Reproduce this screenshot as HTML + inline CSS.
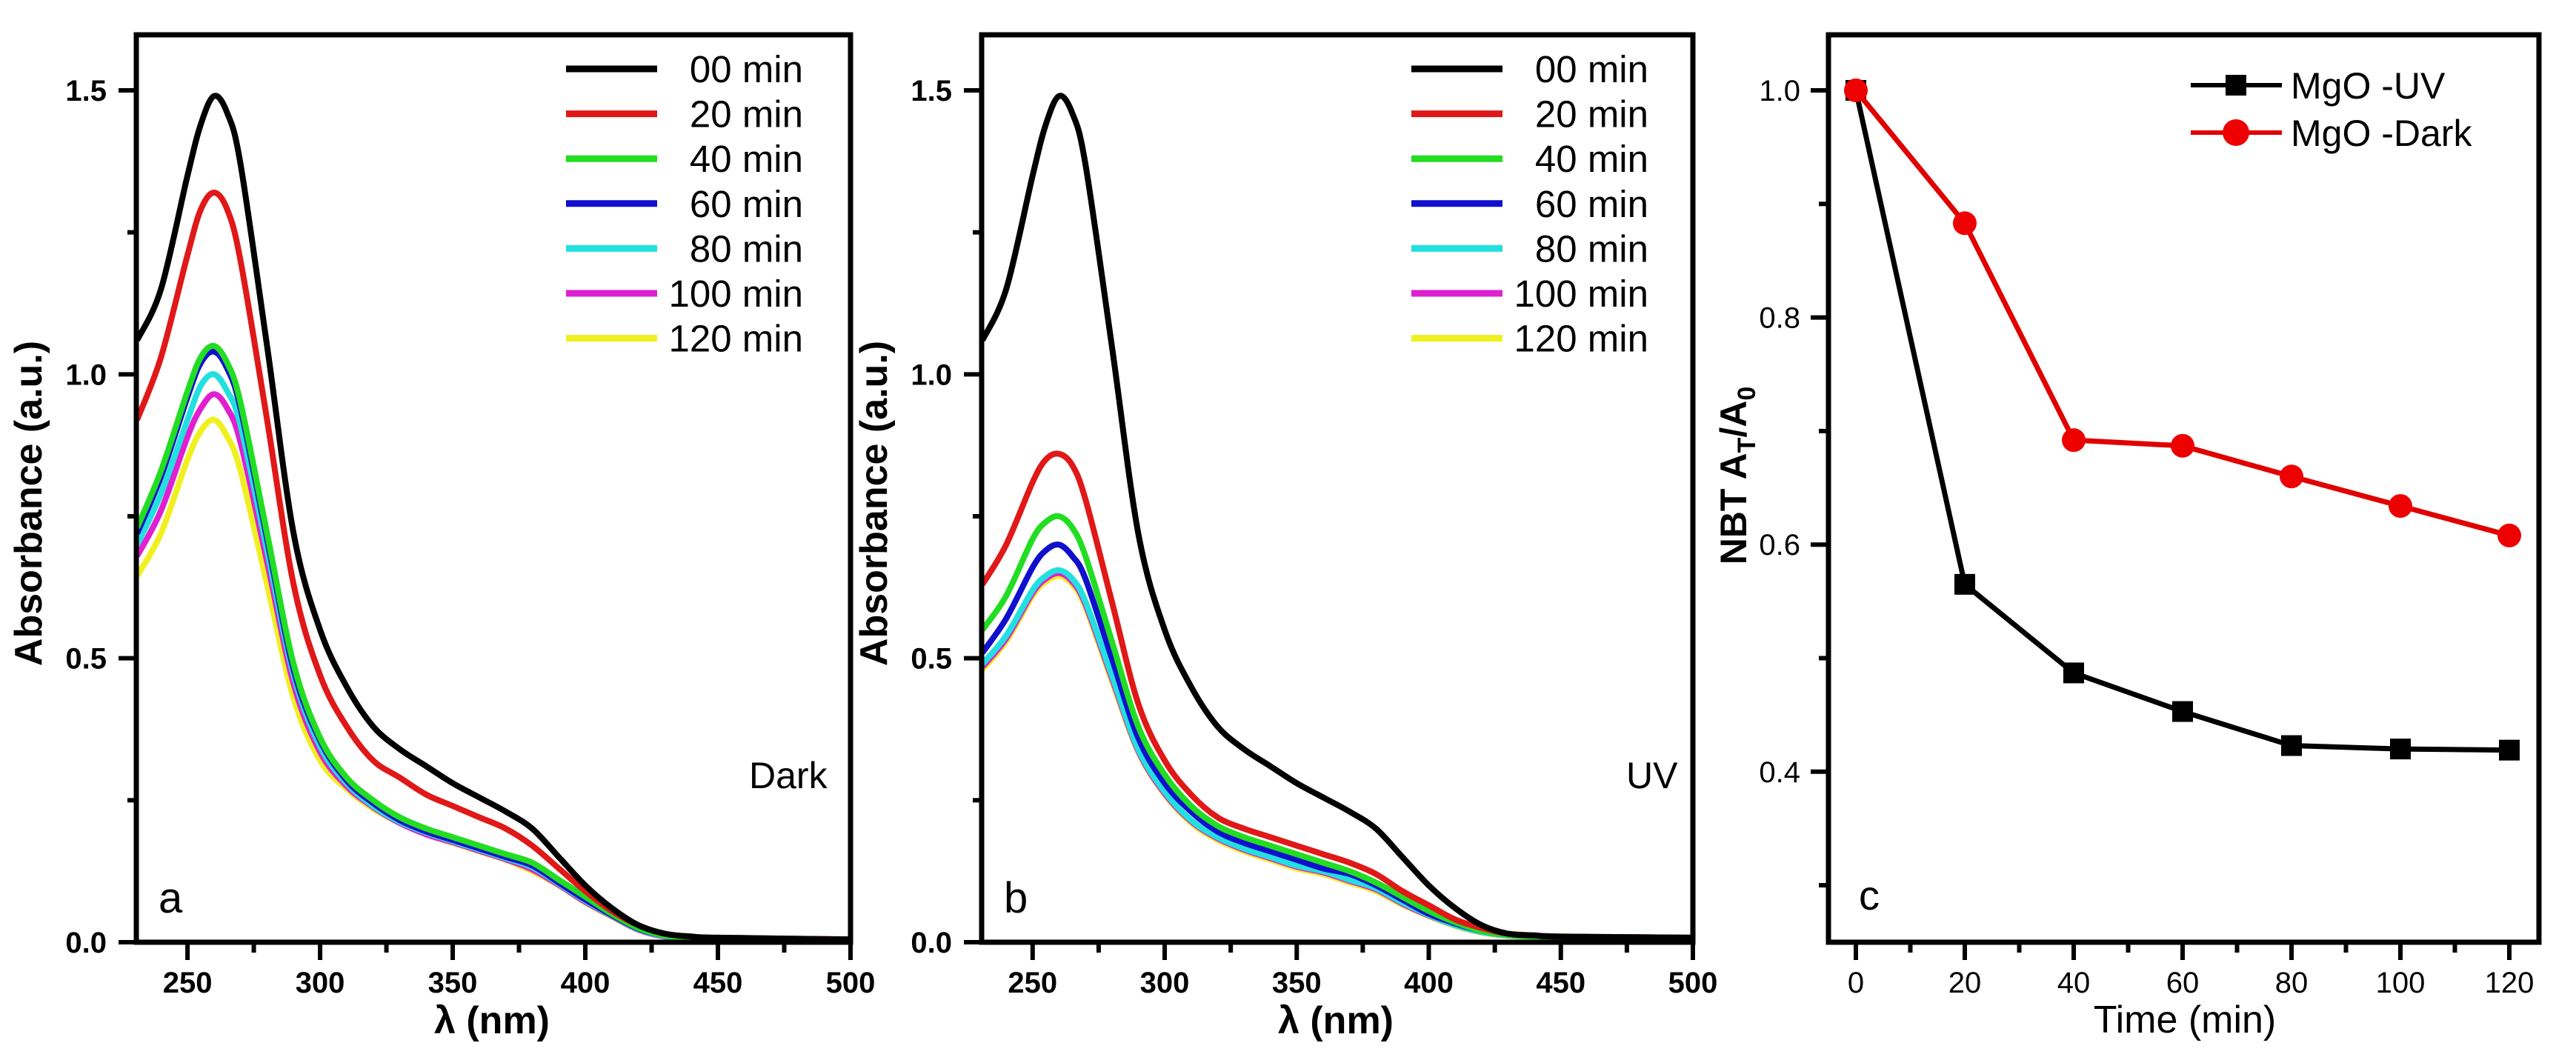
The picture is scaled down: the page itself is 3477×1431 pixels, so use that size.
<!DOCTYPE html>
<html><head><meta charset="utf-8"><style>
html,body{margin:0;padding:0;background:#fff;}
svg{display:block;font-family:"Liberation Sans",Arial,sans-serif;}
</style></head><body>
<svg id="fig" width="3477" height="1431" viewBox="0 0 3477 1431"></svg>
<script>
const wavelengths=[231,240,250,255,260,265,270,280,290,300,310,320,330,340,350,360,370,380,390,400,410,420,430,440,450,500];
const seriesLabels=["00 min","20 min","40 min","60 min","80 min","100 min","120 min"];
const seriesColors=["#000000","#e01818","#22dd22","#1010cc","#22e0e0","#e020d0","#f0f020"];
const darkBlack=[1.06,1.15,1.35,1.44,1.49,1.46,1.37,1.05,0.72,0.55,0.45,0.38,0.34,0.31,0.28,0.255,0.23,0.20,0.15,0.10,0.06,0.03,0.015,0.01,0.008,0.005];
const darkRed=[0.92,1.03,1.21,1.29,1.32,1.29,1.20,0.92,0.63,0.47,0.38,0.32,0.29,0.26,0.24,0.22,0.20,0.17,0.13,0.09,0.055,0.03,0.015,0.01,0.008,0.005];
const darkGreen=[0.73,0.83,0.97,1.03,1.05,1.02,0.95,0.72,0.49,0.36,0.29,0.25,0.22,0.20,0.185,0.17,0.155,0.14,0.11,0.08,0.05,0.025,0.012,0.008,0.006,0.004];
const darkBlue=[0.72,0.82,0.96,1.02,1.04,1.01,0.94,0.71,0.48,0.355,0.285,0.245,0.215,0.195,0.18,0.165,0.15,0.135,0.105,0.075,0.048,0.024,0.012,0.008,0.006,0.004];
const darkCyan=[0.70,0.79,0.92,0.98,1.00,0.97,0.91,0.69,0.47,0.345,0.28,0.24,0.212,0.193,0.178,0.163,0.148,0.132,0.103,0.073,0.047,0.023,0.011,0.008,0.006,0.004];
const darkMagenta=[0.68,0.76,0.89,0.94,0.965,0.94,0.88,0.67,0.455,0.335,0.275,0.238,0.21,0.19,0.176,0.161,0.146,0.128,0.101,0.071,0.046,0.022,0.01,0.007,0.005,0.003];
const darkYellow=[0.645,0.72,0.85,0.90,0.92,0.89,0.83,0.63,0.43,0.32,0.27,0.235,0.21,0.19,0.175,0.16,0.145,0.125,0.10,0.07,0.045,0.022,0.01,0.007,0.005,0.003];
const uvBlack=[1.06,1.15,1.35,1.44,1.49,1.46,1.37,1.05,0.72,0.55,0.45,0.38,0.34,0.31,0.28,0.255,0.23,0.20,0.15,0.10,0.06,0.03,0.015,0.012,0.01,0.008];
const uvRed=[0.63,0.70,0.81,0.85,0.86,0.84,0.78,0.60,0.42,0.32,0.26,0.22,0.20,0.185,0.17,0.155,0.14,0.12,0.09,0.065,0.04,0.025,0.015,0.012,0.01,0.008];
const uvGreen=[0.55,0.61,0.71,0.74,0.75,0.73,0.68,0.53,0.38,0.295,0.24,0.205,0.185,0.17,0.155,0.14,0.125,0.105,0.08,0.055,0.035,0.02,0.013,0.01,0.009,0.007];
const uvBlue=[0.51,0.57,0.66,0.69,0.70,0.68,0.64,0.50,0.36,0.28,0.23,0.195,0.175,0.16,0.145,0.13,0.12,0.10,0.075,0.05,0.033,0.02,0.013,0.01,0.009,0.007];
const uvCyan=[0.49,0.54,0.62,0.645,0.655,0.64,0.60,0.47,0.34,0.265,0.215,0.185,0.165,0.15,0.135,0.125,0.11,0.095,0.07,0.048,0.03,0.018,0.012,0.01,0.009,0.007];
const uvMagenta=[0.485,0.535,0.615,0.64,0.65,0.635,0.595,0.465,0.337,0.262,0.213,0.183,0.163,0.148,0.133,0.123,0.108,0.093,0.068,0.047,0.03,0.018,0.012,0.01,0.009,0.007];
const uvYellow=[0.48,0.53,0.61,0.635,0.645,0.63,0.59,0.46,0.335,0.26,0.21,0.18,0.16,0.145,0.13,0.12,0.105,0.09,0.066,0.046,0.029,0.017,0.011,0.009,0.008,0.006];
const absTicks=[0,0.5,1.0,1.5];
const absTickLabels=["0.0","0.5","1.0","1.5"];
const lamTicks=[250,300,350,400,450,500];
const timePoints=[0,20,40,60,80,100,120];
const uvRatio=[1.0,0.565,0.487,0.453,0.423,0.420,0.419];
const darkRatio=[1.0,0.883,0.692,0.687,0.660,0.634,0.608];
const ratioTicks=[0.4,0.6,0.8,1.0];
const ratioTickLabels=["0.4","0.6","0.8","1.0"];
const timeTicks=[0,20,40,60,80,100,120];

const NS="http://www.w3.org/2000/svg";
const svg=document.getElementById('fig');
function mk(tag,attrs,parent){const e=document.createElementNS(NS,tag);for(const k in attrs)e.setAttribute(k,attrs[k]);(parent||svg).appendChild(e);return e;}
function txt(s,attrs,parent){const e=mk('text',attrs,parent);e.textContent=s;return e;}
function smooth(pts){let d=`M${pts[0][0]},${pts[0][1]}`;for(let i=0;i<pts.length-1;i++){const p0=pts[Math.max(i-1,0)],p1=pts[i],p2=pts[i+1],p3=pts[Math.min(i+2,pts.length-1)];const c1=[p1[0]+(p2[0]-p0[0])/6,p1[1]+(p2[1]-p0[1])/6],c2=[p2[0]-(p3[0]-p1[0])/6,p2[1]-(p3[1]-p1[1])/6];d+=` C${c1[0]},${c1[1]} ${c2[0]},${c2[1]} ${p2[0]},${p2[1]}`;}return d;}

function spectrumPanel(name,L,R,series,letter,cond,condX){
  const T=47,B=1272;
  const x=v=>L+(v-230.7)/(500-230.7)*(R-L);
  const y=v=>B-v/1.5*(B-122);
  const g=mk('g',{},svg);
  
  
  const cg=mk('g',{},g);
  
  
  for(let s=series.length-1;s>=0;s--){
    const pts=wavelengths.map((w,i)=>[x(w),y(series[s][i])]);
    const p=mk('path',{d:smooth(pts),fill:'none',stroke:seriesColors[s],'stroke-width':8,'stroke-linejoin':'round'},cg);
    
    
  }
  const fr=mk('rect',{x:L,y:T,width:R-L,height:B-T,fill:'none',stroke:'#000','stroke-width':7},g);
  
  
  for(let v=0;v<=1.5001;v+=0.25){const big=Math.abs(v*2-Math.round(v*2))<1e-6;mk('line',{x1:L,x2:L-(big?24:12),y1:y(v),y2:y(v),stroke:'#000','stroke-width':6},g);}
  absTicks.forEach((v,i)=>{const t=txt(absTickLabels[i],{x:L-40,y:y(v)+14,'text-anchor':'end','font-size':40,'font-weight':'bold'},g);});
  for(let v=250;v<=500;v+=25){const big=v%50===0;mk('line',{x1:x(v),x2:x(v),y1:B,y2:B+(big?24:14),stroke:'#000','stroke-width':6},g);}
  lamTicks.forEach(v=>{const t=txt(String(v),{x:x(v),y:1340,'text-anchor':'middle','font-size':40,'font-weight':'bold'},g);});
  const yt=txt('Absorbance (a.u.)',{x:0,y:0,'text-anchor':'middle','font-size':52,'font-weight':'bold',transform:`translate(${L-128},${(T+B)/2+20}) rotate(-90)`},g);
  
  const xt=txt('λ (nm)',{x:(L+R)/2-2,y:1395,'text-anchor':'middle','font-size':52,'font-weight':'bold'},g);
  
  const lg=mk('g',{},g);
  
  seriesLabels.forEach((lab,i)=>{const ly=93+i*60.6;
    const ln=mk('line',{x1:L+580,x2:L+703,y1:ly,y2:ly,stroke:seriesColors[i],'stroke-width':9},lg);
    
    const t=txt(lab,{x:L+900,y:ly+18,'text-anchor':'end','font-size':51},lg);
    });
  const pl=txt(letter,{x:L+30,y:B-40,'font-size':58},g);
  
  const cl=txt(cond,{x:condX,y:1064,'font-size':50},g);
  
}
spectrumPanel('panel-a-dark',184,1148,[darkBlack,darkRed,darkGreen,darkBlue,darkCyan,darkMagenta,darkYellow],'a','Dark',1011);
spectrumPanel('panel-b-uv',1325,2285,[uvBlack,uvRed,uvGreen,uvBlue,uvCyan,uvMagenta,uvYellow],'b','UV',2195);

// Panel c
(function(){
  const L=2468,R=3427,T=47,B=1272;
  const x=v=>2505+v*147/20;
  const y=v=>122+(1.0-v)*1533;
  const g=mk('g',{},svg);
  
  const fr=mk('rect',{x:L,y:T,width:R-L,height:B-T,fill:'none',stroke:'#000','stroke-width':7},g);
  
  for(let k=3;k<=10;k++){const v=k/10;const big=k%2===0;mk('line',{x1:L,x2:L-(big?24:13),y1:y(v),y2:y(v),stroke:'#000','stroke-width':6},g);}
  ratioTicks.forEach((v,i)=>{const t=txt(ratioTickLabels[i],{x:L-38,y:y(v)+14,'text-anchor':'end','font-size':40},g);});
  for(let v=0;v<=120;v+=10){const big=v%20===0;mk('line',{x1:x(v),x2:x(v),y1:B,y2:B+(big?24:14),stroke:'#000','stroke-width':6},g);}
  timeTicks.forEach(v=>{const t=txt(String(v),{x:x(v),y:1340,'text-anchor':'middle','font-size':40},g);});
  const xt=txt('Time (min)',{x:2949,y:1394,'text-anchor':'middle','font-size':52},g);
  
  const yt=mk('text',{x:0,y:0,'text-anchor':'middle','font-size':50,'font-weight':'bold',transform:`translate(2357,642) rotate(-90)`},g);
  
  yt.innerHTML='NBT A<tspan font-size="34" dy="12">T</tspan><tspan dy="-12">/A</tspan><tspan font-size="34" dy="12">0</tspan>';
  const uvG=mk('g',{},g);
  const dkG=mk('g',{},g);
  mk('polyline',{points:timePoints.map((t,i)=>x(t)+','+y(uvRatio[i])).join(' '),fill:'none',stroke:'#000','stroke-width':7},uvG);
  timePoints.forEach((t,i)=>{const r=mk('rect',{x:x(t)-14,y:y(uvRatio[i])-14,width:28,height:28,fill:'#000'},uvG);});
  mk('polyline',{points:timePoints.map((t,i)=>x(t)+','+y(darkRatio[i])).join(' '),fill:'none',stroke:'#e00000','stroke-width':7},dkG);
  timePoints.forEach((t,i)=>{const c=mk('circle',{cx:x(t),cy:y(darkRatio[i]),r:16,fill:'#ee0000'},dkG);});
  const lg=mk('g',{},g);
  const e1=mk('g',{},lg);
  mk('line',{x1:2957,x2:3080,y1:115,y2:115,stroke:'#000','stroke-width':6},e1);
  mk('rect',{x:3004,y:101,width:28,height:28,fill:'#000'},e1);
  txt('MgO -UV',{x:3092,y:133,'font-size':50},e1);
  const e2=mk('g',{},lg);
  mk('line',{x1:2957,x2:3080,y1:179,y2:179,stroke:'#e00000','stroke-width':6},e2);
  mk('circle',{cx:3018,cy:179,r:18,fill:'#ee0000'},e2);
  txt('MgO -Dark',{x:3092,y:197,'font-size':50},e2);
  const pl=txt('c',{x:2509,y:1228,'font-size':56},g);
  
})();
</script>
</body></html>
